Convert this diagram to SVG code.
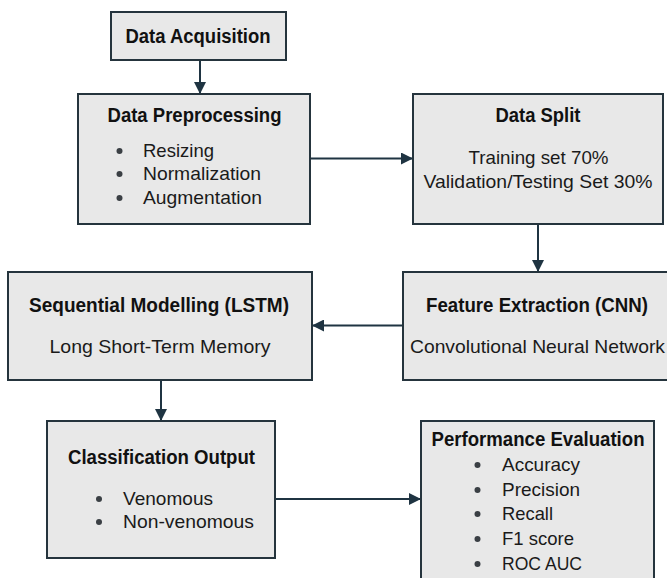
<svg xmlns="http://www.w3.org/2000/svg" width="667" height="578" viewBox="0 0 667 578">
<defs>
<style>
.box{fill:#e8e8e8;stroke:#25343d;stroke-width:2}
.t{font-family:"Liberation Sans",Arial,sans-serif;font-weight:bold;font-size:20px;fill:#111}
.r{font-family:"Liberation Sans",Arial,sans-serif;font-size:19px;fill:#1a1a1a}
.c{text-anchor:middle}
.dot{fill:#3a3f44}
.conn{stroke:#1f3442;stroke-width:2;fill:none}
</style>
<marker id="ah" viewBox="0 0 12 12" refX="11" refY="6" markerWidth="12" markerHeight="12" markerUnits="userSpaceOnUse" orient="auto">
<path d="M0,0 L12,6 L0,12 Z" fill="#1f3442"/>
</marker>
</defs>
<rect width="667" height="578" fill="#ffffff"/>
<g id="connectors">
<line class="conn" x1="200" y1="61" x2="200" y2="93" marker-end="url(#ah)"/>
<line class="conn" x1="311" y1="158.5" x2="412" y2="158.5" marker-end="url(#ah)"/>
<line class="conn" x1="538" y1="224" x2="538" y2="271" marker-end="url(#ah)"/>
<line class="conn" x1="403" y1="325.5" x2="313" y2="325.5" marker-end="url(#ah)"/>
<line class="conn" x1="161" y1="381" x2="161" y2="420" marker-end="url(#ah)"/>
<line class="conn" x1="276" y1="499" x2="420" y2="499" marker-end="url(#ah)"/>
</g>
<g id="data-acquisition">
<rect class="box" x="111" y="12" width="175" height="48"/>
<text class="t c" x="198" y="43" textLength="145" lengthAdjust="spacingAndGlyphs">Data Acquisition</text>
</g>
<g id="data-preprocessing">
<rect class="box" x="78" y="94" width="232" height="130"/>
<text class="t c" x="194.5" y="122" textLength="174" lengthAdjust="spacingAndGlyphs">Data Preprocessing</text>
<circle class="dot" cx="119.5" cy="151" r="3"/>
<circle class="dot" cx="119.5" cy="174" r="3"/>
<circle class="dot" cx="119.5" cy="198" r="3"/>
<text class="r" x="143" y="157" textLength="71" lengthAdjust="spacingAndGlyphs">Resizing</text>
<text class="r" x="143" y="180" textLength="118" lengthAdjust="spacingAndGlyphs">Normalization</text>
<text class="r" x="143" y="204" textLength="119" lengthAdjust="spacingAndGlyphs">Augmentation</text>
</g>
<g id="data-split">
<rect class="box" x="413" y="94" width="250" height="130"/>
<text class="t c" x="538" y="122" textLength="85" lengthAdjust="spacingAndGlyphs">Data Split</text>
<text class="r c" x="538.5" y="164" textLength="140" lengthAdjust="spacingAndGlyphs">Training set 70%</text>
<text class="r c" x="538" y="188" textLength="229" lengthAdjust="spacingAndGlyphs">Validation/Testing Set 30%</text>
</g>
<g id="feature-extraction">
<rect class="box" x="403" y="272" width="270" height="108"/>
<text class="t c" x="537" y="312" textLength="222" lengthAdjust="spacingAndGlyphs">Feature Extraction (CNN)</text>
<text class="r c" x="537.5" y="353" textLength="255" lengthAdjust="spacingAndGlyphs">Convolutional Neural Network</text>
</g>
<g id="sequential-modelling">
<rect class="box" x="8" y="272" width="304" height="108"/>
<text class="t c" x="159" y="312" textLength="260" lengthAdjust="spacingAndGlyphs">Sequential Modelling (LSTM)</text>
<text class="r c" x="160" y="353" textLength="221" lengthAdjust="spacingAndGlyphs">Long Short-Term Memory</text>
</g>
<g id="classification-output">
<rect class="box" x="47" y="421" width="228" height="137"/>
<text class="t c" x="161.5" y="464" textLength="187" lengthAdjust="spacingAndGlyphs">Classification Output</text>
<circle class="dot" cx="99" cy="499" r="3"/>
<circle class="dot" cx="99" cy="522" r="3"/>
<text class="r" x="123" y="505" textLength="90" lengthAdjust="spacingAndGlyphs">Venomous</text>
<text class="r" x="123" y="528" textLength="131" lengthAdjust="spacingAndGlyphs">Non-venomous</text>
</g>
<g id="performance-evaluation">
<rect class="box" x="421" y="421" width="233" height="170"/>
<text class="t c" x="538" y="446" textLength="213" lengthAdjust="spacingAndGlyphs">Performance Evaluation</text>
<circle class="dot" cx="477.5" cy="465" r="3"/>
<circle class="dot" cx="477.5" cy="490" r="3"/>
<circle class="dot" cx="477.5" cy="514" r="3"/>
<circle class="dot" cx="477.5" cy="539" r="3"/>
<circle class="dot" cx="477.5" cy="564" r="3"/>
<text class="r" x="502" y="471" textLength="78" lengthAdjust="spacingAndGlyphs">Accuracy</text>
<text class="r" x="502" y="496" textLength="78" lengthAdjust="spacingAndGlyphs">Precision</text>
<text class="r" x="502" y="520" textLength="51" lengthAdjust="spacingAndGlyphs">Recall</text>
<text class="r" x="502" y="545" textLength="72" lengthAdjust="spacingAndGlyphs">F1 score</text>
<text class="r" x="502" y="570" textLength="80" lengthAdjust="spacingAndGlyphs">ROC AUC</text>
</g>
</svg>
